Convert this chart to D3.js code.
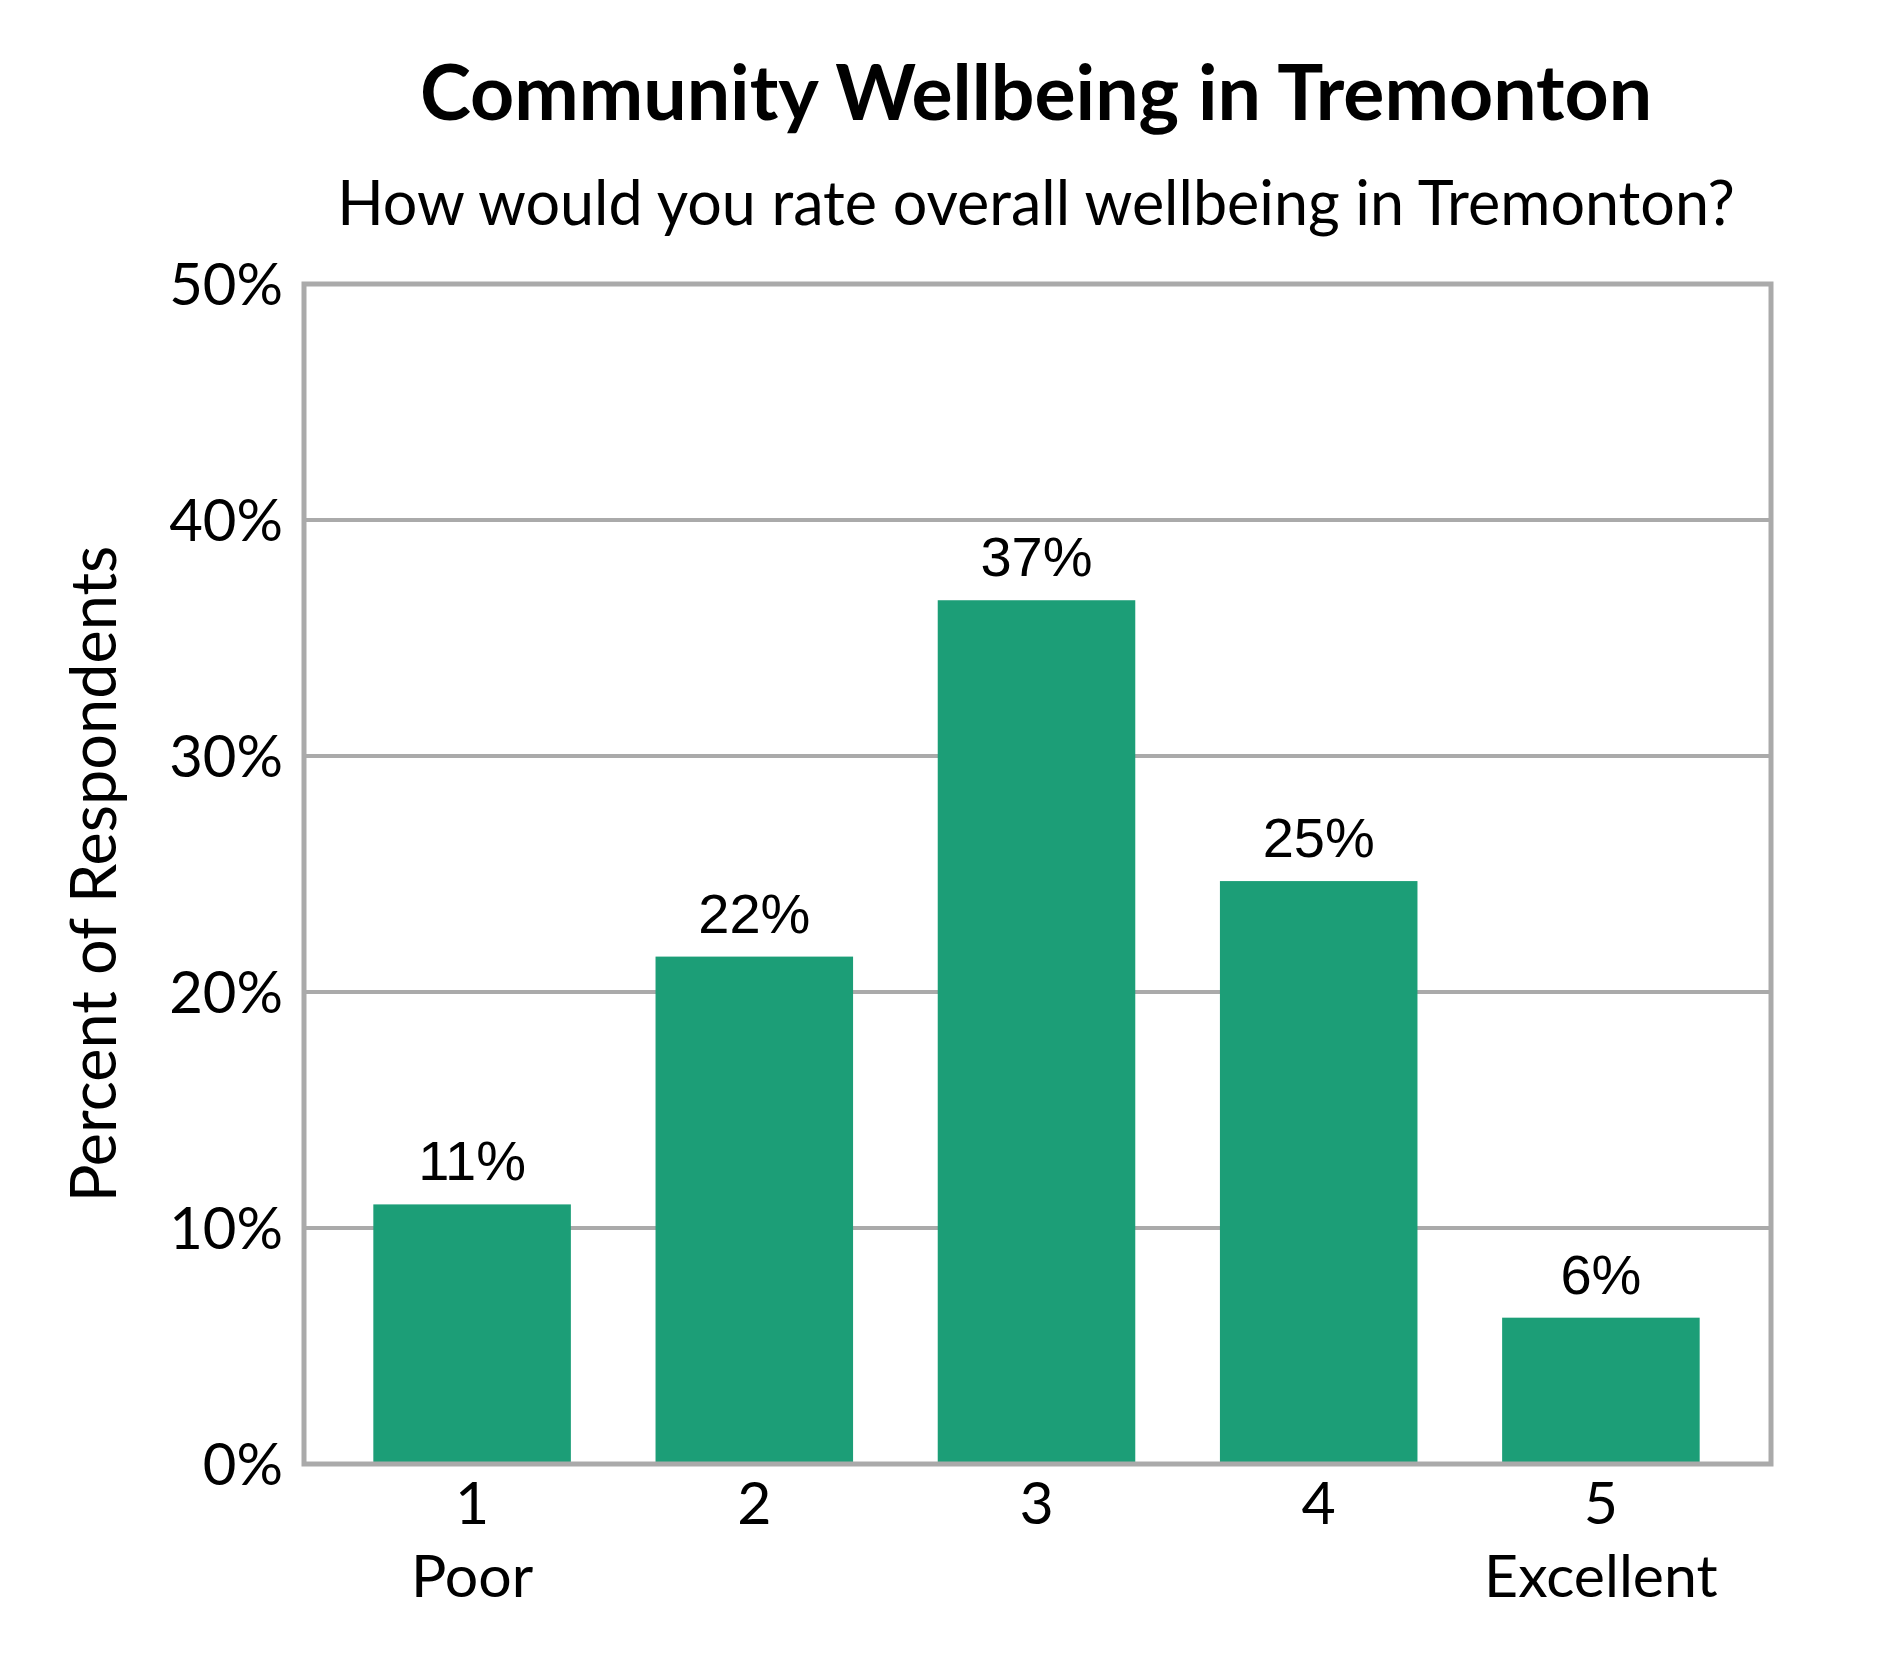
<!DOCTYPE html>
<html><head><meta charset="utf-8">
<script src="https://cdn.jsdelivr.net/npm/d3@7"></script>
<style>body{margin:0;background:#fff}</style></head>
<body><svg id="c" width="1890" height="1680"></svg>
<script>
const categories = ["1","2","3","4","5"];
const subLabels = ["Poor","","","","Excellent"];
const values = [11.0, 21.5, 36.6, 24.7, 6.2];
const valueLabels = ["11%","22%","37%","25%","6%"];
const yTicks = [0,10,20,30,40,50];

const svg = d3.select("#c");
const L=304,R=1771,T=284,B=1464;
const x = d3.scaleBand().domain(categories).range([331,1742]).paddingInner(0.3).paddingOuter(0.15);
const y = d3.scaleLinear().domain([0,50]).range([B,T]);
const f = "Lato, 'Noto Sans', sans-serif";

svg.append("g").selectAll("line").data(yTicks.slice(1,-1)).join("line")
  .attr("x1",L).attr("x2",R).attr("y1",d=>y(d)).attr("y2",d=>y(d))
  .attr("stroke","#aaaaaa").attr("stroke-width",4);

svg.append("g").selectAll("rect").data(values).join("rect")
  .attr("x",(d,i)=>x(categories[i])).attr("width",x.bandwidth())
  .attr("y",d=>y(d)).attr("height",d=>B-y(d)).attr("fill","#1c9e77");

svg.append("rect").attr("x",L).attr("y",T).attr("width",R-L).attr("height",B-T)
  .attr("fill","none").attr("stroke","#aaaaaa").attr("stroke-width",5);

svg.append("g").selectAll("text").data(values).join("text")
  .attr("x",(d,i)=>x(categories[i])+x.bandwidth()/2).attr("y",d=>y(d)-24)
  .attr("text-anchor","middle").attr("font-family","'Liberation Sans', Arial, sans-serif")
  .attr("font-size",56).text((d,i)=>valueLabels[i]);

svg.append("g").selectAll("text").data(yTicks).join("text")
  .attr("x",283).attr("y",d=>y(d)).attr("dy","0.36em").attr("text-anchor","end")
  .attr("font-family",f).attr("font-size",58).text(d=>d+"%");

svg.append("g").selectAll("text").data(categories).join("text")
  .attr("x",d=>x(d)+x.bandwidth()/2).attr("y",1524).attr("text-anchor","middle")
  .attr("font-family",f).attr("font-size",59).text(d=>d);
svg.append("g").selectAll("text").data(categories).join("text")
  .attr("x",d=>x(d)+x.bandwidth()/2).attr("y",1597).attr("text-anchor","middle")
  .attr("font-family",f).attr("font-size",59).text((d,i)=>subLabels[i]);

svg.append("text").attr("x",1036).attr("y",120).attr("text-anchor","middle")
  .attr("font-family",f).attr("font-weight","bold").attr("font-size",77)
  .text("Community Wellbeing in Tremonton");
svg.append("text").attr("x",1036).attr("y",225).attr("text-anchor","middle")
  .attr("font-family",f).attr("font-size",61)
  .text("How would you rate overall wellbeing in Tremonton?");
svg.append("text").attr("transform","translate(94,874) rotate(-90)").attr("dy","0.35em")
  .attr("text-anchor","middle").attr("font-family",f).attr("font-size",63)
  .text("Percent of Respondents");
</script></body></html>
